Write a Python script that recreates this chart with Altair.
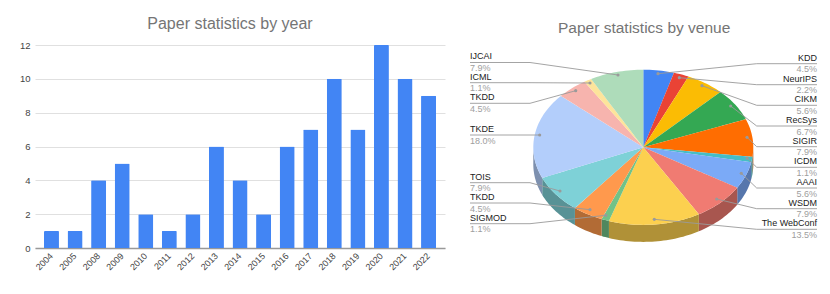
import math
import altair as alt
import pandas as pd

# ---- values ----
years = ["2004","2005","2008","2009","2010","2011","2012","2013","2014","2015","2016","2017","2018","2019","2020","2021","2022"]
year_counts = [1,1,4,5,2,1,2,6,4,2,6,7,10,7,12,10,9]
venues = ["KDD","NeurIPS","CIKM","RecSys","SIGIR","ICDM","AAAI","WSDM","The WebConf","SIGMOD","TKDD","TOIS","TKDE","TKDD ","ICML","IJCAI"]
venue_counts = [4,2,5,6,7,1,5,7,12,1,4,7,16,4,1,7]
venue_colors = ["#4285f4","#ea4335","#fbbc04","#34a853","#ff6d01","#46bdc6","#7baaf7","#f07b72","#fcd04f","#71c287","#ff994d","#7ed1d7","#b3cefb","#f7b4ae","#fde49b","#aedcba"]

# ---- layout of the pie panel (page pixels) ----
CX, CY, RX, RY, DEPTH = 643.3, 148.3, 110.0, 77.6, 17.0
PX0, PX1, PY0, PY1 = 452.0, 820.0, 46.0, 250.0
FONT = "Liberation Sans"
label_layout = [
    # label x, line y, bend x, end x, end y
    (817, 64.7, 756.7, 658.0, 74.7),
    (817, 85.7, 756.7, 679.3, 78.7),
    (817, 106.3, 756.7, 702.0, 86.7),
    (817, 127.0, 756.7, 730.7, 107.0),
    (817, 147.7, 756.7, 747.0, 138.3),
    (817, 168.3, 756.7, 747.0, 159.0),
    (817, 189.0, 756.7, 741.3, 174.3),
    (817, 209.7, 756.7, 716.7, 200.0),
    (817, 230.3, 756.7, 654.3, 220.3),
    (470, 224.7, 530.0, 605.7, 216.3),
    (470, 204.0, 530.0, 590.0, 210.7),
    (470, 183.7, 530.0, 560.0, 192.0),
    (470, 136.0, 530.0, 539.7, 136.0),
    (470, 104.3, 530.0, 575.7, 91.7),
    (470, 83.7, 530.0, 590.0, 84.0),
    (470, 63.5, 530.0, 618.0, 76.0),
]


def darken(h, f=0.7):
    return "#%02x%02x%02x" % tuple(int(int(h[i:i + 2], 16) * f) for i in (1, 3, 5))


def rim(t):
    return CX + RX * math.sin(t), CY - RY * math.cos(t)


total = sum(venue_counts)
top_rows, wall_rows = [], []
cum = 0
for i, (n, col) in enumerate(zip(venue_counts, venue_colors)):
    t0 = 2 * math.pi * cum / total
    cum += n
    t1 = 2 * math.pi * cum / total
    k = max(4, int((t1 - t0) / math.radians(1.5)))
    ts = [t0 + (t1 - t0) * j / k for j in range(k + 1)]
    poly = [(CX, CY)] + [rim(t) for t in ts]
    xs = sorted({round(p[0], 4) for p in poly})
    edges = list(zip(poly, poly[1:] + poly[:1]))
    for x in xs:
        hits = []
        for (ax, ay), (bx, by) in edges:
            lo, hi = min(ax, bx) - 5e-4, max(ax, bx) + 5e-4
            if lo <= x <= hi:
                if abs(bx - ax) < 1e-3:
                    hits += [ay, by]
                else:
                    hits.append(ay + (by - ay) * (x - ax) / (bx - ax))
        top_rows.append({"x": x, "y": min(hits), "y2": max(hits), "s": f"t{i:02d}", "c": col})
    # side wall: only the front half of the rim shows
    a, b = max(t0, math.pi / 2), min(t1, 3 * math.pi / 2)
    if b > a:
        for j in range(k + 1):
            t = a + (b - a) * j / k
            x, y = rim(t)
            wall_rows.append({"x": x, "y": y, "y2": y + DEPTH, "s": f"w{i:02d}", "c": darken(col)})

line_rows, dot_rows, text_rows = [], [], []
for i, (name, n, (lx, ly, bx, ex, ey)) in enumerate(zip(venues, venue_counts, label_layout)):
    for o, (x, y) in enumerate([(lx, ly), (bx, ly), (ex, ey)]):
        line_rows.append({"x": x, "y": y, "s": f"l{i:02d}", "o": o})
    dot_rows.append({"x": ex, "y": ey})
    anchor = "right" if lx > CX else "left"
    text_rows.append({"x": lx, "y": ly - 6.2, "t": name.strip(), "a": anchor, "k": "name"})
    text_rows.append({"x": lx, "y": ly + 5.5, "t": f"{100 * n / total:.1f}%", "a": anchor, "k": "pct"})

xs = alt.Scale(domain=[PX0, PX1], range=[0, PX1 - PX0])
ys = alt.Scale(domain=[PY0, PY1], range=[0, PY1 - PY0])
X = alt.X("x:Q", scale=xs, axis=None)
Y = alt.Y("y:Q", scale=ys, axis=None)
color = alt.Color("c:N", scale=None, legend=None)


def sector_layer(rows):
    return alt.Chart(pd.DataFrame(rows)).mark_area(opacity=1, strokeWidth=0).encode(
        x=X, y=Y, y2="y2:Q", color=color, detail="s:N")


lines = alt.Chart(pd.DataFrame(line_rows)).mark_line(color="#9a9a9a", strokeWidth=0.9).encode(
    x=X, y=Y, detail="s:N", order="o:Q")
dots = alt.Chart(pd.DataFrame(dot_rows)).mark_circle(color="#9a9a9a", size=10, opacity=1).encode(x=X, y=Y)

text_df = pd.DataFrame(text_rows)
texts = []
for anchor in ("left", "right"):
    for kind, col in (("name", "#222222"), ("pct", "#9e9e9e")):
        sub = text_df[(text_df.a == anchor) & (text_df.k == kind)]
        texts.append(alt.Chart(sub).mark_text(align=anchor, baseline="middle", font=FONT, fontSize=9, color=col).encode(
            x=X, y=Y, text="t:N"))

pie = alt.layer(sector_layer(wall_rows), sector_layer(top_rows), lines, dots, *texts).properties(
    width=PX1 - PX0, height=PY1 - PY0,
    title=alt.TitleParams("Paper statistics by venue", fontSize=15.5, font=FONT, color="#757575",
                          fontWeight="normal", anchor="start", offset=9, dx=106))

bars = alt.Chart(pd.DataFrame({"year": years, "count": year_counts})).mark_bar(
    color="#4285f4", cornerRadiusTopLeft=1, cornerRadiusTopRight=1).encode(
    x=alt.X("year:N", sort=None, title=None,
            scale=alt.Scale(paddingInner=0.363, paddingOuter=0.38),
            axis=alt.Axis(labelAngle=-45, labelAlign="right", labelBaseline="middle", labelFontSize=9, labelFont=FONT,
                          labelColor="#444444", ticks=False, domainColor="#999999", domainWidth=1.5,
                          labelPadding=6, grid=False)),
    y=alt.Y("count:Q", title=None, scale=alt.Scale(domain=[0, 12]),
            axis=alt.Axis(values=[0, 2, 4, 6, 8, 10, 12], labelFontSize=9.5, labelFont=FONT, labelColor="#444444",
                          ticks=False, domain=False, gridColor="#e0e0e0", gridWidth=1, labelPadding=5)),
).properties(width=410, height=203,
             title=alt.TitleParams("Paper statistics by year", fontSize=16, font=FONT, color="#757575",
                                   fontWeight="normal", anchor="middle", offset=8, dx=-10))

chart = alt.hconcat(bars, pie, spacing=7, padding={"left": 11, "top": 8, "right": 0, "bottom": 0}).configure_view(stroke=None)
chart.save("out.html", embed_options={"renderer": "svg", "actions": False})
